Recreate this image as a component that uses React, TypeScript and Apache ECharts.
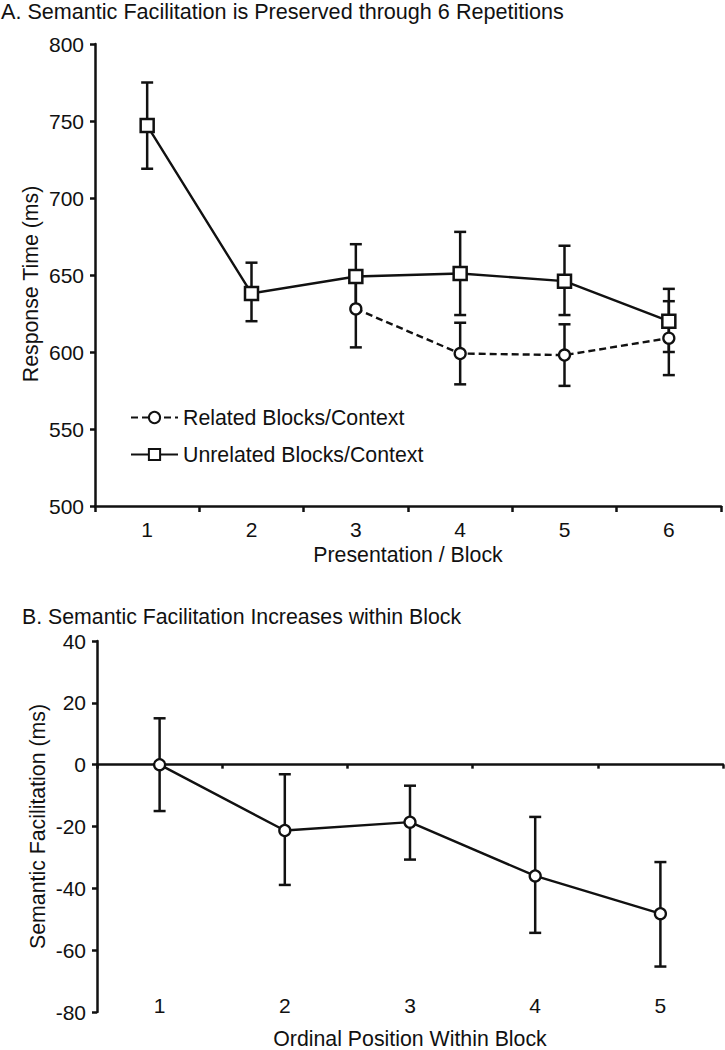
import React, { useEffect, useRef } from "react";
import * as echarts from "echarts";

const FONT = "'Liberation Sans', Arial, sans-serif";
const INK = "#111";

// Panel A
const titleA = "A. Semantic Facilitation is Preserved through 6 Repetitions";
const categoriesA = ["1", "2", "3", "4", "5", "6"];
const unrelatedMean = [747, 638, 649, 651, 646, 620];
const unrelatedLow = [719, 620, 628, 624, 624, 600];
const unrelatedHigh = [775, 658, 670, 678, 669, 641];
const relatedMean: (number | null)[] = [null, null, 628, 599, 598, 609];
const relatedLow: (number | null)[] = [null, null, 603, 579, 578, 585];
const relatedHigh: (number | null)[] = [null, null, 653, 619, 618, 633];

// Panel B
const titleB = "B. Semantic Facilitation Increases within Block";
const categoriesB = ["1", "2", "3", "4", "5"];
const facilitationMean = [0, -21.3, -18.6, -36, -48.2];
const facilitationLow = [-15, -38.9, -30.7, -54.4, -65.3];
const facilitationHigh = [15, -3.1, -6.8, -16.9, -31.5];

function errData(lo: (number | null)[], hi: (number | null)[]) {
  const out: any[] = [];
  lo.forEach((l, i) => {
    if (l !== null && hi[i] !== null) out.push([i, l, hi[i]]);
  });
  return out;
}

function errRender(params: any, api: any) {
  const x = api.value(0);
  const lo = api.coord([x, api.value(1)]);
  const hi = api.coord([x, api.value(2)]);
  const half = 6;
  const style = { stroke: INK, lineWidth: 2.5, fill: null };
  return {
    type: "group",
    children: [
      { type: "line", shape: { x1: lo[0], y1: lo[1], x2: hi[0], y2: hi[1] }, style },
      { type: "line", shape: { x1: lo[0] - half, y1: lo[1], x2: lo[0] + half, y2: lo[1] }, style },
      { type: "line", shape: { x1: hi[0] - half, y1: hi[1], x2: hi[0] + half, y2: hi[1] }, style },
    ],
  };
}

const textStyle = { fontFamily: FONT, fontSize: 21.3, color: INK };
const tickText = { fontFamily: FONT, fontSize: 21, color: INK };

export default function App() {
  const ref = useRef<HTMLDivElement>(null);
  useEffect(() => {
    if (!ref.current) return;
    const chart = echarts.init(ref.current, null, { renderer: "svg" });
    const axisLine = { show: true, lineStyle: { color: INK, width: 2.5 } };
    const axisTick = { show: true, length: 6, lineStyle: { color: INK, width: 2.5 } };
    const option: any = {
      animation: false,
      backgroundColor: "#fff",
      textStyle: { fontFamily: FONT },
      title: [
        { text: titleA, left: 1, top: 0, padding: 0, textStyle: { ...textStyle, fontSize: 21.6, fontWeight: "normal" } },
        { text: titleB, left: 22, top: 606, padding: 0, textStyle: { ...textStyle, fontWeight: "normal" } },
      ],
      legend: {
        data: ["Related Blocks/Context", "Unrelated Blocks/Context"],
        orient: "vertical",
        left: 130,
        top: 407,
        itemWidth: 47,
        itemHeight: 14,
        itemGap: 16,
        padding: 0,
        textStyle: { ...textStyle },
      },
      grid: [
        { left: 95, top: 44, width: 626, height: 462 },
        { left: 97, top: 641, width: 626, height: 375 },
      ],
      xAxis: [
        {
          type: "category",
          gridIndex: 0,
          data: categoriesA,
          boundaryGap: true,
          axisLine,
          axisTick,
          axisLabel: { ...tickText, margin: 13 },
          name: "Presentation / Block",
          nameLocation: "middle",
          nameGap: 38,
          nameMoveOverlap: false,
          nameTextStyle: { ...textStyle },
          splitLine: { show: false },
        },
        {
          type: "category",
          gridIndex: 1,
          data: categoriesB,
          boundaryGap: true,
          axisLine: { ...axisLine, onZero: true },
          axisTick: { ...axisTick, length: 4 },
          axisLabel: { show: false },
          splitLine: { show: false },
        },
        {
          type: "category",
          gridIndex: 1,
          data: categoriesB,
          boundaryGap: true,
          position: "bottom",
          axisLine: { show: false, onZero: false },
          axisTick: { show: false },
          axisLabel: { ...tickText, margin: -17 },
          name: "Ordinal Position Within Block",
          nameLocation: "middle",
          nameGap: 16,
          nameMoveOverlap: false,
          nameTextStyle: { ...textStyle },
          splitLine: { show: false },
        },
      ],
      yAxis: [
        {
          type: "value",
          gridIndex: 0,
          min: 500,
          max: 800,
          interval: 50,
          axisLine,
          axisTick: { ...axisTick, length: 5 },
          axisLabel: { ...tickText, margin: 11 },
          splitLine: { show: false },
          name: "Response Time (ms)",
          nameLocation: "middle",
          nameGap: 54,
          nameMoveOverlap: false,
          nameTextStyle: { ...textStyle, padding: [0, 18, 0, 0] },
        },
        {
          type: "value",
          gridIndex: 1,
          min: -80,
          max: 40,
          interval: 20,
          axisLine,
          axisTick: { ...axisTick, length: 5 },
          axisLabel: { ...tickText, margin: 11 },
          splitLine: { show: false },
          name: "Semantic Facilitation (ms)",
          nameLocation: "middle",
          nameGap: 49,
          nameMoveOverlap: false,
          nameTextStyle: { ...textStyle },
        },
      ],
      series: [
        {
          type: "custom",
          name: "errUnrelated",
          xAxisIndex: 0,
          yAxisIndex: 0,
          z: 1,
          renderItem: errRender,
          data: errData(unrelatedLow, unrelatedHigh),
          encode: { x: 0, y: [1, 2] },
          silent: true,
        },
        {
          type: "custom",
          name: "errRelated",
          xAxisIndex: 0,
          yAxisIndex: 0,
          z: 1,
          renderItem: errRender,
          data: errData(relatedLow, relatedHigh),
          encode: { x: 0, y: [1, 2] },
          silent: true,
        },
        {
          type: "line",
          name: "Related Blocks/Context",
          xAxisIndex: 0,
          yAxisIndex: 0,
          z: 3,
          data: relatedMean.map((v) => (v === null ? "-" : v)),
          symbol: "circle",
          symbolSize: 11,
          showAllSymbol: true,
          lineStyle: { color: INK, width: 2.4, type: [7, 4] },
          itemStyle: { color: "#fff", borderColor: INK, borderWidth: 2.3 },
        },
        {
          type: "line",
          name: "Unrelated Blocks/Context",
          xAxisIndex: 0,
          yAxisIndex: 0,
          z: 3,
          data: unrelatedMean,
          symbol: "rect",
          symbolSize: 13,
          showAllSymbol: true,
          lineStyle: { color: INK, width: 2.4 },
          itemStyle: { color: "#fff", borderColor: INK, borderWidth: 2.5 },
        },
        {
          type: "custom",
          name: "errFacilitation",
          xAxisIndex: 1,
          yAxisIndex: 1,
          z: 1,
          renderItem: errRender,
          data: errData(facilitationLow, facilitationHigh),
          encode: { x: 0, y: [1, 2] },
          silent: true,
        },
        {
          type: "line",
          name: "Semantic Facilitation",
          xAxisIndex: 1,
          yAxisIndex: 1,
          z: 3,
          data: facilitationMean,
          symbol: "circle",
          symbolSize: 11,
          showAllSymbol: true,
          lineStyle: { color: INK, width: 2.4 },
          itemStyle: { color: "#fff", borderColor: INK, borderWidth: 2.3 },
        },
      ],
    };
    chart.setOption(option);
    return () => chart.dispose();
  }, []);
  return (
    <div
      ref={ref}
      style={{ position: "absolute", left: 0, top: 0, width: 725, height: 1050, background: "#fff" }}
    />
  );
}
